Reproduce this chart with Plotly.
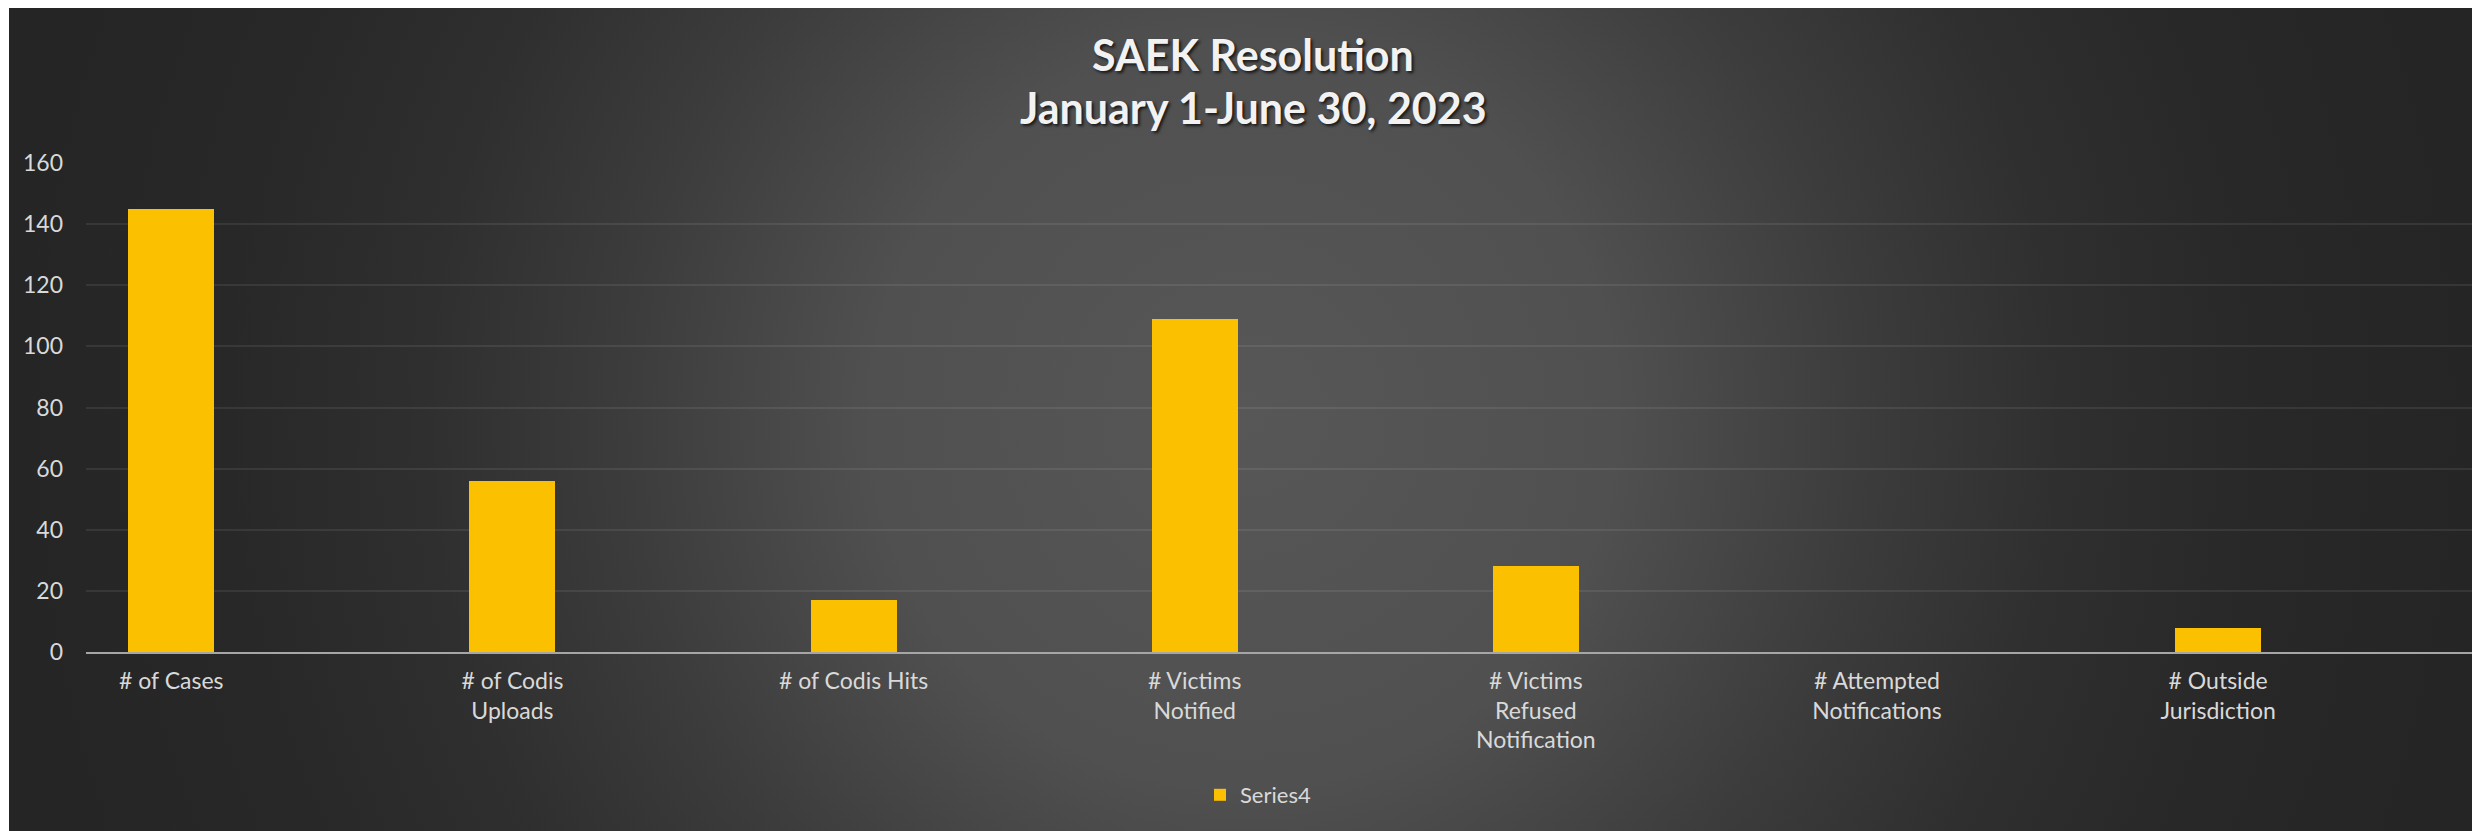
import base64
import plotly.graph_objects as go

categories = ["# of Cases", "# of Codis<br>Uploads", "# of Codis Hits", "# Victims<br>Notified",
              "# Victims<br>Refused<br>Notification", "# Attempted<br>Notifications", "# Outside<br>Jurisdiction"]
values = [145, 56, 17, 109, 28, 0, 8]
series_name = "Series4"
y_ticks = [0, 20, 40, 60, 80, 100, 120, 140, 160]

OFF = 8  # default page body margin in the browser
W, H = 2480 - OFF, 831 - OFF
ML, MR, MT, MB = 86 - OFF, 6, 163 - OFF, 179
PW, PH = W - ML - MR, H - MT - MB

def px_x(px):
    return (px - OFF - ML) / PW

def px_y(py):
    return (H - MB - (py - OFF)) / PH

bw, bh = 2471, 827
svg = (f'<svg xmlns="http://www.w3.org/2000/svg" width="{bw}" height="{bh}" viewBox="0 0 {bw} {bh}" preserveAspectRatio="none">'
       '<defs><radialGradient id="g" gradientUnits="userSpaceOnUse" cx="1235" cy="412" r="1240">'
       '<stop offset="0" stop-color="#575757"/><stop offset="0.3" stop-color="#505050"/>'
       '<stop offset="0.5" stop-color="#3c3c3c"/><stop offset="0.66" stop-color="#2f2f2f"/>'
       '<stop offset="0.82" stop-color="#282828"/><stop offset="1" stop-color="#252525"/>'
       '</radialGradient></defs>'
       f'<rect width="{bw}" height="{bh}" fill="url(#g)"/></svg>')
src = "data:image/svg+xml;base64," + base64.b64encode(svg.encode()).decode()

fig = go.Figure()
fig.add_trace(go.Bar(
    x=categories, y=values, name=series_name, width=0.252,
    marker=dict(color="#FBC000", line=dict(width=0)),
    showlegend=True,
))

font_main = "Lato, 'Open Sans', sans-serif"
fig.update_layout(
    width=W, height=H,
    margin=dict(l=ML, r=MR, t=MT, b=MB, pad=0),
    paper_bgcolor="white",
    plot_bgcolor="rgba(0,0,0,0)",
    font=dict(family=font_main, size=22, color="#D9D9D9"),
    bargap=0,
    images=[dict(source=src, xref="paper", yref="paper", x=px_x(9), y=px_y(4),
                 sizex=bw / PW, sizey=bh / PH, sizing="stretch", layer="below",
                 xanchor="left", yanchor="top")],
    xaxis=dict(type="category", range=[-0.25, 6.75], showgrid=False, zeroline=False,
               showline=True, linecolor="#A6A6A6", linewidth=2, ticks="",
               tickfont=dict(size=23, color="#D9D9D9"), ticklabelstandoff=7),
    yaxis=dict(range=[0, 160], tickvals=y_ticks, showgrid=True,
               gridcolor="rgba(255,255,255,0.08)", gridwidth=2, zeroline=False,
               showline=False, ticks="", tickfont=dict(size=23, color="#D9D9D9"),
               ticklabelstandoff=22),
    legend=dict(orientation="h", x=px_x(1258), y=px_y(795), xanchor="center", yanchor="middle",
                font=dict(size=22, color="#D9D9D9"), bgcolor="rgba(0,0,0,0)", itemwidth=30),
    annotations=[
        dict(text="<b>SAEK Resolution</b>", xref="paper", yref="paper", x=px_x(1253), y=px_y(54),
             showarrow=False, xanchor="center", yanchor="middle",
             font=dict(family=font_main, size=43, color="#F2F2F2",
                       shadow="2px 2px 3px rgba(0,0,0,0.7)")),
        dict(text="<b>January 1-June 30, 2023</b>", xref="paper", yref="paper", x=px_x(1253), y=px_y(108),
             showarrow=False, xanchor="center", yanchor="middle",
             font=dict(family=font_main, size=43, color="#F2F2F2",
                       shadow="2px 2px 3px rgba(0,0,0,0.7)")),
    ],
)

fig.write_html("out.html")
